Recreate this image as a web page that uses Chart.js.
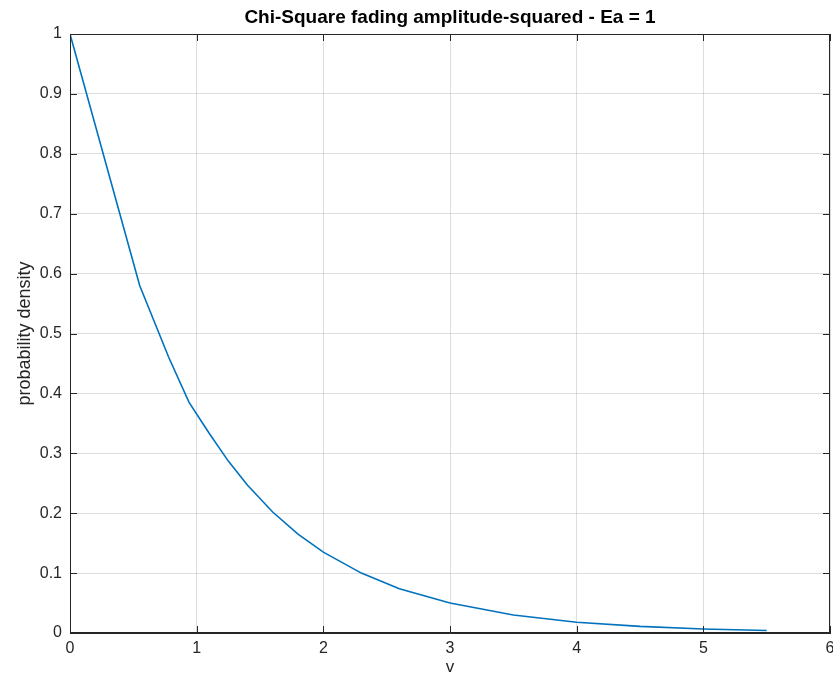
<!DOCTYPE html>
<html>
<head>
<meta charset="utf-8">
<script src="https://cdn.jsdelivr.net/npm/chart.js@4/dist/chart.umd.min.js"></script>
<style>
  html, body { margin: 0; padding: 0; background: #fff; }
  #wrap { width: 833px; height: 678px; }
</style>
</head>
<body>
<div id="wrap"><canvas id="chiChart" width="833" height="678"></canvas></div>
<script>
// 數據
const vValues = [0, 0.55, 0.78, 0.94, 1.1, 1.25, 1.4, 1.6, 1.8, 2.0, 2.3, 2.6, 3.0, 3.5, 4.0, 4.5, 5.0, 5.5];
const densityValues = [1, 0.58, 0.46, 0.385, 0.333, 0.287, 0.247, 0.202, 0.165, 0.135, 0.1, 0.074, 0.05, 0.03, 0.018, 0.011, 0.0068, 0.0042];
const xTicks = [0, 1, 2, 3, 4, 5, 6];
const yTicks = [0, 0.1, 0.2, 0.3, 0.4, 0.5, 0.6, 0.7, 0.8, 0.9, 1];

const axisColor = '#262626';
const fontFamily = '"Liberation Sans", Arial, Helvetica, sans-serif';

// 盒子邊框和內側刻度
const boxPlugin = {
    id: 'matlabBox',
    afterDraw(chart) {
        const ctx = chart.ctx;
        const a = chart.chartArea;
        const xs = chart.scales.x, ys = chart.scales.y;
        ctx.save();
        ctx.strokeStyle = axisColor;
        ctx.lineWidth = 1;
        ctx.strokeRect(a.left + 0.5, a.top + 0.5, a.right - a.left - 1, a.bottom - a.top - 1);
        ctx.beginPath();
        xTicks.forEach(function(t) {
            const px = Math.round(xs.getPixelForValue(t)) + 0.5;
            ctx.moveTo(px, a.bottom); ctx.lineTo(px, a.bottom - 7);
            ctx.moveTo(px, a.top); ctx.lineTo(px, a.top + 7);
        });
        yTicks.forEach(function(t) {
            const py = Math.round(ys.getPixelForValue(t)) + 0.5;
            ctx.moveTo(a.left, py); ctx.lineTo(a.left + 7, py);
            ctx.moveTo(a.right, py); ctx.lineTo(a.right - 7, py);
        });
        ctx.stroke();
        ctx.restore();
    }
};

new Chart(document.getElementById('chiChart'), {
    type: 'scatter',
    data: {
        datasets: [{
            data: vValues.map(function(v, i) { return { x: v, y: densityValues[i] }; }),
            showLine: true,
            borderColor: '#0072BD',
            borderWidth: 1.6,
            pointRadius: 0,
            tension: 0,
            fill: false
        }]
    },
    options: {
        responsive: false,
        animation: false,
        layout: { padding: { left: 0, right: 3, top: 0, bottom: 0 } },
        plugins: {
            legend: { display: false },
            tooltip: { enabled: false },
            title: {
                display: true,
                fullSize: false,
                text: 'Chi-Square fading amplitude-squared - Ea = 1',
                color: '#000',
                font: { family: fontFamily, size: 19, weight: 'bold' },
                padding: { top: 6, bottom: 5.2 }
            }
        },
        scales: {
            x: {
                type: 'linear',
                min: 0,
                max: 6,
                afterBuildTicks: function(s) { s.ticks = xTicks.map(function(v) { return { value: v }; }); },
                afterFit: function(s) { s.height = 45; s.paddingLeft = 0; s.paddingRight = 0; },
                grid: { color: 'rgba(0,0,0,0.13)', drawTicks: false },
                border: { display: true, color: axisColor },
                ticks: {
                    color: axisColor, font: { family: fontFamily, size: 16 }, padding: 6, maxRotation: 0,
                    callback: function(v) { return String(v); }
                },
                title: { display: true, text: 'v', color: axisColor, font: { family: fontFamily, size: 17 }, padding: { top: 0, bottom: 0 } }
            },
            y: {
                type: 'linear',
                min: 0,
                max: 1,
                afterBuildTicks: function(s) { s.ticks = yTicks.map(function(v) { return { value: v }; }); },
                afterFit: function(s) { s.width = 70; s.paddingTop = 0; s.paddingBottom = 0; },
                grid: { color: 'rgba(0,0,0,0.13)', drawTicks: false },
                border: { display: true, color: axisColor },
                ticks: {
                    color: axisColor, font: { family: fontFamily, size: 16 }, padding: 8,
                    callback: function(v) { return String(v); }
                },
                title: { display: true, text: 'probability density', color: axisColor, font: { family: fontFamily, size: 18 }, padding: { top: 14, bottom: 4 } }
            }
        }
    },
    plugins: [boxPlugin]
});
</script>
</body>
</html>
